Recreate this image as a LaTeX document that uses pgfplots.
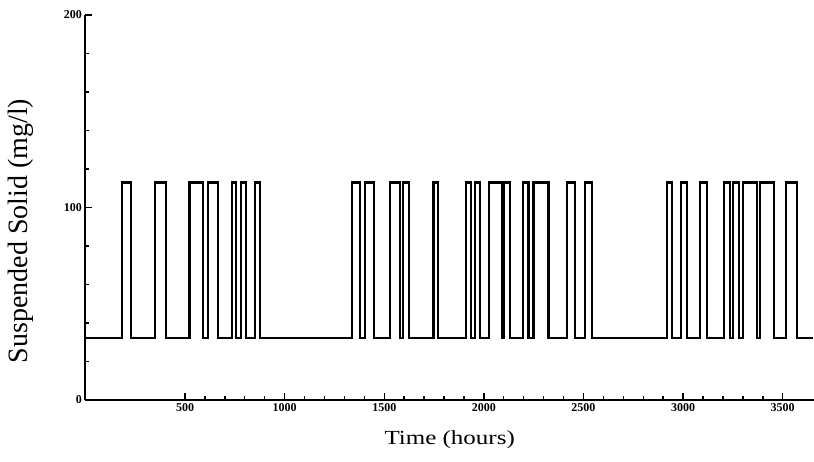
\documentclass[border=0pt]{standalone}
\usepackage{fontspec}
\setmainfont{Liberation Serif}
\usepackage{graphicx}
\usepackage{pgfplots}
\pgfplotsset{compat=1.18}
\begin{document}
\begin{tikzpicture}[x=1pt,y=1pt]
\useasboundingbox (0,0) rectangle (814,462);
\begin{axis}[
  at={(85.4pt,62pt)}, anchor=south west,
  scale only axis, width=728.6pt, height=385pt,
  xmin=0, xmax=3657, ymin=0, ymax=200,
  axis x line*=bottom, axis y line*=left,
  axis line style={line width=2.2pt, -},
  xtick={500,1000,...,3500}, ytick={0,100,200},
  minor x tick num=4, minor y tick num=4,
  tick align=inside,
  major tick length=7pt, minor tick length=4pt,
  every tick/.style={line width=1.4pt, black},
  ticklabel style={font=\fontsize{12}{14}\selectfont\bfseries},
  /pgf/number format/assume math mode=true,
  /pgf/number format/1000 sep={},
  xlabel={\scalebox{1.25}[1]{Time (hours)}},
  ylabel={Suspended Solid (mg/l)},
  xlabel style={font=\fontsize{20}{24}\selectfont, at={(axis description cs:0.5,-0.104)}, anchor=center},
  ylabel style={font=\fontsize{28}{32}\selectfont, at={(axis description cs:-0.088,0.439)}, anchor=center},
  clip=false,
]
\addplot[const plot, black, line width=2.2pt] coordinates {
  (0,32) (182,113) (229,32) (349,113) (404,32) (522,113) (592,32)
  (617,113) (667,32) (734,113) (756,32) (780,113) (805,32) (851,113) (877,32)
  (1337,113) (1379,32) (1404,113) (1449,32) (1529,113) (1579,32)
  (1596,113) (1626,32) (1747,113) (1769,32) (1911,113) (1936,32)
  (1956,113) (1981,32) (2026,113) (2090,32) (2103,113) (2132,32)
  (2198,113) (2224,32) (2249,113) (2324,32) (2416,113) (2458,32)
  (2508,113) (2542,32) (2918,113) (2946,32) (2988,113) (3019,32)
  (3085,113) (3119,32) (3207,113) (3235,32) (3250,113) (3280,32)
  (3300,113) (3370,32) (3385,113) (3455,32) (3515,113) (3572,32)
  (3650,32)
};
\end{axis}
\end{tikzpicture}
\end{document}
